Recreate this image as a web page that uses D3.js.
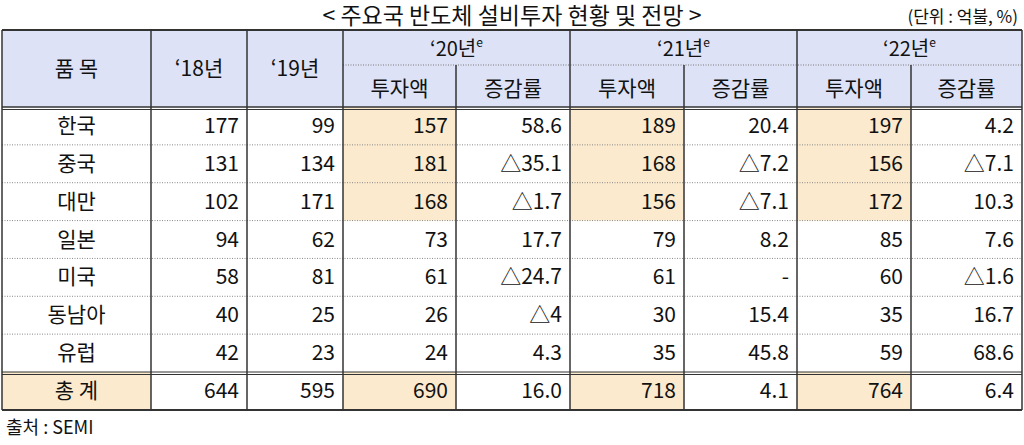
<!DOCTYPE html>
<html><head><meta charset="utf-8">
<script src="https://cdn.jsdelivr.net/npm/d3@7"></script>
<style>body{margin:0;background:#fff}svg{display:block}text{font-family:"Noto Sans CJK KR","Noto Sans",sans-serif;fill:#111}</style>
</head><body><svg id="c" width="1024" height="445"></svg>
<script>
const countries=["한국","중국","대만","일본","미국","동남아","유럽"];
const y18=[177,131,102,94,58,40,42];
const y19=[99,134,171,62,81,25,23];
const inv20=[157,181,168,73,61,26,24];
const chg20=["58.6","△35.1","△1.7","17.7","△24.7","△4","4.3"];
const inv21=[189,168,156,79,61,30,35];
const chg21=["20.4","△7.2","△7.1","8.2","-","15.4","45.8"];
const inv22=[197,156,172,85,60,35,59];
const chg22=["4.2","△7.1","10.3","7.6","△1.6","16.7","68.6"];
const total=["644","595","690","16.0","718","4.1","764","6.4"];
const yearHeads=["‘20년","‘21년","‘22년"];

const svg=d3.select("#c");
const HB="#dde2f6",HL="#fbeacd",LC="#333";
const edges=[2,151,247,343,456,570,684,797,911,1022];
const x=i=>edges[i], w=i=>edges[i+1]-edges[i];
const rowsY=d3.scaleBand().domain(d3.range(7)).range([107,372]);
const totY=[372,410];

svg.append("text").attr("x",512).attr("y",24).attr("text-anchor","middle").attr("font-size",23).text("< 주요국 반도체 설비투자 현황 및 전망 >");
svg.append("text").attr("x",1018).attr("y",23).attr("text-anchor","end").attr("font-size",17).text("(단위 : 억불, %)");

svg.append("rect").attr("x",2).attr("y",30).attr("width",1020).attr("height",77).attr("fill",HB);
const invCols=[3,5,7];
invCols.forEach(c=>{
  svg.append("rect").attr("x",x(c)).attr("y",rowsY(0)).attr("width",w(c)).attr("height",rowsY.bandwidth()*3).attr("fill",HL);
  svg.append("rect").attr("x",x(c)).attr("y",totY[0]).attr("width",w(c)).attr("height",totY[1]-totY[0]).attr("fill",HL);
});
svg.append("rect").attr("x",x(0)).attr("y",totY[0]).attr("width",w(0)).attr("height",totY[1]-totY[0]).attr("fill",HL);

const ht=(tx,ty,s,sz=21)=>svg.append("text").attr("x",tx).attr("y",ty).attr("text-anchor","middle").attr("font-size",sz).text(s);
ht((x(0)+x(1))/2,76,"품  목");
ht((x(1)+x(2))/2,76,"‘18년");
ht((x(2)+x(3))/2,76,"‘19년");
yearHeads.forEach((s,i)=>{
  const c=3+i*2;
  const t=ht((x(c)+x(c+2))/2,56,s,20);
  t.append("tspan").attr("font-size",12).attr("dy",-9).text("e");
  ht((x(c)+x(c+1))/2,96,"투자액");
  ht((x(c+1)+x(c+2))/2,96,"증감률");
});

const cols=[y18,y19,inv20,chg20,inv21,chg21,inv22,chg22];
countries.forEach((cn,r)=>{
  const cy=rowsY(r)+rowsY.bandwidth()/2+7;
  ht((x(0)+x(1))/2,cy,cn);
  cols.forEach((arr,k)=>{
    svg.append("text").attr("x",x(k+2)-8).attr("y",cy).attr("text-anchor","end").attr("font-size",21).text(arr[r]);
  });
});
const ty=(totY[0]+totY[1])/2+7;
ht((x(0)+x(1))/2,ty,"총  계");
total.forEach((v,k)=>svg.append("text").attr("x",x(k+2)-8).attr("y",ty).attr("text-anchor","end").attr("font-size",21).text(v));

const line=(x1,y1,x2,y2,o={})=>svg.append("line").attr("x1",x1).attr("y1",y1).attr("x2",x2).attr("y2",y2)
  .attr("stroke",o.c||LC).attr("stroke-width",o.w||1.5).attr("stroke-dasharray",o.d||null);
line(2,30,1022,30,{w:2});
line(x(3),65,1022,65,{c:"#777",w:1,d:"1,1.5"});
line(2,107,1022,107,{w:1.5});
line(2,109.5,1022,109.5,{w:1});
for(let r=1;r<7;r++) line(2,rowsY(r),1022,rowsY(r),{c:"#888",w:1,d:"1,1.5"});
line(2,372,1022,372,{w:1});
line(2,374.5,1022,374.5,{w:1});
line(2,410,1022,410,{w:2});
edges.forEach((e,i)=>{
  let y1=30;
  if(i===4||i===6||i===8) y1=65;
  line(e,y1,e,410,{w:1.5});
});
svg.append("text").attr("x",6).attr("y",434).attr("font-size",18).text("출처 : SEMI");
</script></body></html>
